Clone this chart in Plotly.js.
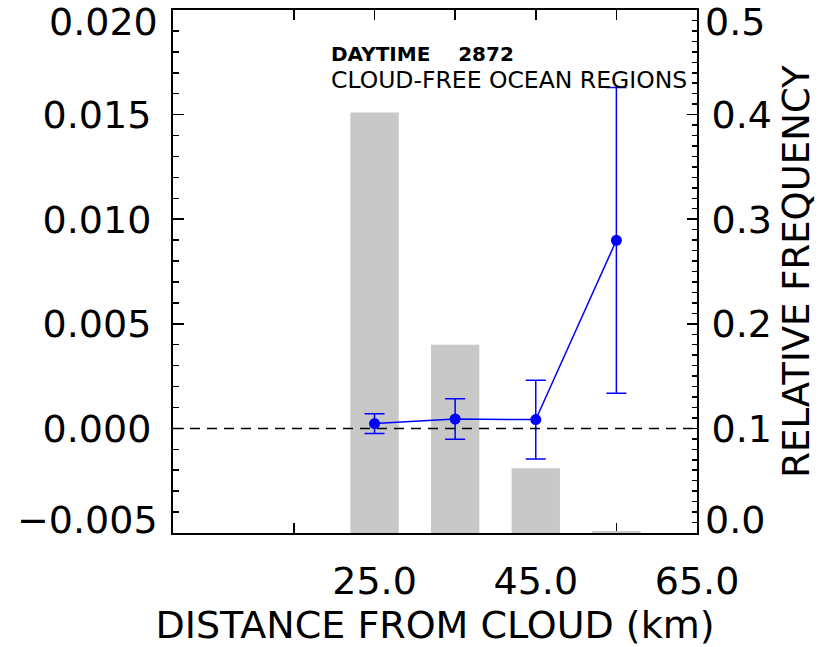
<!DOCTYPE html>
<html>
<head>
<meta charset="utf-8">
<script src="https://cdn.plot.ly/plotly-3.0.1.min.js"></script>
<style>
  html, body { margin: 0; padding: 0; background: #fff; }
  #chart { width: 830px; height: 647px; }
</style>
</head>
<body>
<div id="chart"></div>
<script>
// ---- data ----
const distanceKm = [25, 35, 45, 55];
const relFrequency = [0.402, 0.180, 0.062, 0.002];
const meanValue = [0.00023, 0.00045, 0.00042, 0.00899];
const meanError = [0.00047, 0.00097, 0.00188, 0.00731];

const xTickVals = [15, 25, 35, 45, 55, 65];
const xTickText = ['', '25.0', '', '45.0', '', '65.0'];
const leftTickVals = [-0.005, 0.000, 0.005, 0.010, 0.015, 0.020];
const leftTickText = ['\u22120.005', '0.000', '0.005', '0.010', '0.015', '0.020'];
const rightTickVals = [0.0, 0.1, 0.2, 0.3, 0.4, 0.5];
const rightTickText = ['0.0', '0.1', '0.2', '0.3', '0.4', '0.5'];

const labelLine1 = 'DAYTIME&nbsp;&nbsp;&nbsp;&nbsp;2872';
const labelLine2 = 'CLOUD-FREE OCEAN REGIONS';
const xTitle = 'DISTANCE FROM CLOUD (km)';
const rightTitle = 'RELATIVE FREQUENCY';

const FONT = 'DejaVu Sans, sans-serif';
const BLUE = 'rgb(0,0,255)';

// end labels are drawn as annotations (shifted inward like the original)
function innerText(texts) {
  return texts.map((t, i) => (i === 0 || i === texts.length - 1) ? '' : t);
}

const bars = {
  type: 'bar',
  x: distanceKm,
  y: relFrequency,
  width: 6,
  marker: { color: 'rgb(200,200,200)', line: { width: 0 } },
  xaxis: 'x', yaxis: 'y',
  hoverinfo: 'skip'
};

const points = {
  type: 'scatter',
  mode: 'lines+markers',
  x: distanceKm,
  y: meanValue,
  xaxis: 'x', yaxis: 'y2',
  line: { color: BLUE, width: 1.5 },
  marker: { color: BLUE, size: 11 },
  error_y: { type: 'data', array: meanError, visible: true, color: BLUE, thickness: 1.5, width: 10 },
  cliponaxis: false
};

const annotations = [
  { xref: 'paper', yref: 'y2', x: 0, y: leftTickVals[leftTickVals.length - 1], text: leftTickText[leftTickText.length - 1],
    xanchor: 'right', yanchor: 'middle', xshift: -13, yshift: -12, showarrow: false, font: { family: FONT, size: 38, color: '#000' } },
  { xref: 'paper', yref: 'y2', x: 0, y: leftTickVals[0], text: leftTickText[0],
    xanchor: 'right', yanchor: 'middle', xshift: -13, yshift: 13, showarrow: false, font: { family: FONT, size: 38, color: '#000' } },
  { xref: 'paper', yref: 'y', x: 1, y: rightTickVals[rightTickVals.length - 1], text: rightTickText[rightTickText.length - 1],
    xanchor: 'left', yanchor: 'middle', xshift: 6, yshift: -12, showarrow: false, font: { family: FONT, size: 38, color: '#000' } },
  { xref: 'paper', yref: 'y', x: 1, y: rightTickVals[0], text: rightTickText[0],
    xanchor: 'left', yanchor: 'middle', xshift: 6, yshift: 13, showarrow: false, font: { family: FONT, size: 38, color: '#000' } },
  { xref: 'paper', yref: 'paper', x: 0.298, y: 0.915, text: labelLine1, xanchor: 'left', yanchor: 'middle',
    showarrow: false, font: { family: FONT, size: 20, color: '#000', weight: 'bold' } },
  { xref: 'paper', yref: 'paper', x: 0.298, y: 0.867, text: labelLine2, xanchor: 'left', yanchor: 'middle',
    showarrow: false, font: { family: FONT, size: 23.5, color: '#000' } }
];

const layout = {
  width: 830, height: 647,
  margin: { l: 173, r: 133, t: 10, b: 114, pad: 0 },
  paper_bgcolor: '#fff', plot_bgcolor: '#fff',
  showlegend: false,
  font: { family: FONT, size: 38, color: '#000' },
  xaxis: {
    range: [0, 65], tickmode: 'array', tickvals: xTickVals, ticktext: xTickText,
    ticks: 'inside', ticklen: 10, tickwidth: 1.5, tickcolor: '#000',
    showline: true, linewidth: 2, linecolor: '#000', mirror: 'ticks',
    showgrid: false, zeroline: false, layer: 'below traces',
    ticklabelstandoff: 13,
    tickfont: { family: FONT, size: 38 },
    title: { text: xTitle, font: { family: FONT, size: 38 }, standoff: 6 },
    automargin: false, fixedrange: true
  },
  yaxis: {
    side: 'right', range: [0, 0.5], tickmode: 'array', tickvals: rightTickVals, ticktext: innerText(rightTickText),
    ticks: 'inside', ticklen: 10, tickwidth: 1.5, tickcolor: '#000',
    minor: { dtick: 0.01, ticks: 'inside', ticklen: 5, tickwidth: 1.5, tickcolor: '#000', showgrid: false },
    showline: true, linewidth: 2, linecolor: '#000', mirror: false,
    showgrid: false, zeroline: false,
    ticklabelstandoff: 5,
    tickfont: { family: FONT, size: 38 },
    title: { text: rightTitle, font: { family: FONT, size: 37 }, standoff: 12 },
    automargin: false, fixedrange: true
  },
  yaxis2: {
    side: 'left', overlaying: 'y', range: [-0.005, 0.020], tickmode: 'array', tickvals: leftTickVals, ticktext: innerText(leftTickText),
    ticks: 'inside', ticklen: 11, tickwidth: 1.5, tickcolor: '#000',
    minor: { dtick: 0.001, ticks: 'inside', ticklen: 6, tickwidth: 1.5, tickcolor: '#000', showgrid: false },
    showline: true, linewidth: 2, linecolor: '#000', mirror: false,
    showgrid: false, zeroline: false,
    ticklabelstandoff: 12,
    tickfont: { family: FONT, size: 38 },
    automargin: false, fixedrange: true
  },
  shapes: [
    { type: 'line', xref: 'paper', x0: 0, x1: 1, yref: 'y2', y0: 0, y1: 0,
      line: { color: '#000', width: 1.5, dash: '10px,7px' }, layer: 'above' }
  ],
  annotations: annotations
};

Plotly.newPlot('chart', [bars, points], layout, { staticPlot: true, displayModeBar: false });
</script>
</body>
</html>
